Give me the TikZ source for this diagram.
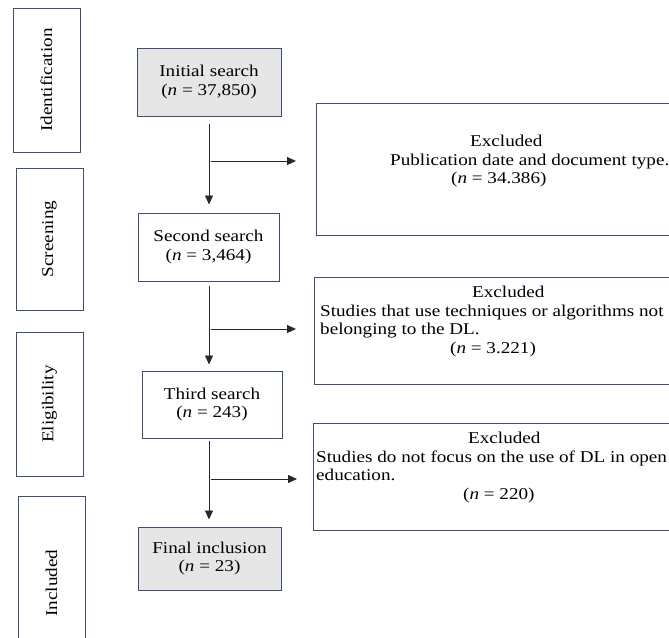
\documentclass[tikz,border=0pt]{standalone}
\usepackage{fontspec}
\setmainfont[FakeStretch=1.16]{Liberation Serif}
\usetikzlibrary{arrows.meta,calc}
\definecolor{bordc}{RGB}{62,80,112}
\definecolor{greyfill}{RGB}{230,230,230}
\definecolor{arrc}{RGB}{40,40,40}
\begin{document}
\begin{tikzpicture}[x=1pt,y=-1pt,
  every node/.style={font=\fontsize{16.5}{18.5}\selectfont, inner sep=0pt},
  sidebox/.style={draw=bordc, line width=1pt, rotate=90, minimum height=67pt},
  mainbox/.style={draw=bordc, line width=1pt, align=center},
  greybox/.style={mainbox, fill=greyfill},
  exbox/.style={draw=bordc, line width=1pt},
  extext/.style={anchor=north west, align=left},
  arr/.style={draw=arrc, line width=0.9pt, -{Triangle[length=9pt,width=8pt]}}]
\useasboundingbox (0,0) rectangle (669,637);
\clip (0,0) rectangle (669,637);
% side stage labels
\node[sidebox, minimum width=144pt] (ident) at (46.5,80) {Identification};
\node[sidebox, minimum width=142pt] (screen) at (49.5,239) {Screening};
\node[sidebox, minimum width=144pt] (elig) at (49.5,404) {Eligibility};
\node[sidebox, minimum width=174pt] (incl) at (51.5,583) {Included};
% main flow boxes
\node[greybox, minimum width=144pt, minimum height=68pt] (init) at (209,82) {Initial search\\(\textit{n} = 37,850)};
\node[mainbox, minimum width=141pt, minimum height=68pt] (second) at (208.5,247) {Second search\\(\textit{n} = 3,464)};
\node[mainbox, minimum width=140pt, minimum height=67pt] (third) at (212,404.5) {Third search\\(\textit{n} = 243)};
\node[greybox, minimum width=143pt, minimum height=63pt] (final) at (209.5,558.5) {Final inclusion\\(\textit{n} = 23)};
% excluded boxes
\node[exbox, anchor=north west, minimum width=390pt, minimum height=132pt] (ex1) at (316,103) {};
\node[exbox, anchor=north west, minimum width=390pt, minimum height=107pt] (ex2) at (314,277) {};
\node[exbox, anchor=north west, minimum width=390pt, minimum height=107pt] (ex3) at (313,423) {};
% excluded texts
\node[extext] (t1) at (390,135) {\hspace*{80pt}Excluded\\Publication date and document type.\\\hspace*{61pt}(\textit{n} = 34.386)};
\node[extext] (t2) at (320,286) {\hspace*{152pt}Excluded\\Studies that use techniques or algorithms not\\belonging to the DL.\\\hspace*{130pt}(\textit{n} = 3.221)};
\node[extext] (t3) at (316,432) {\hspace*{152pt}Excluded\\Studies do not focus on the use of DL in open\\education.\\\hspace*{147pt}(\textit{n} = 220)};
% arrows
\draw[arr, shorten <=7pt, shorten >=8pt] (init.south) -- (init.south |- second.north);
\draw[arr, shorten <=4pt, shorten >=6pt] (init.south |- second.south) -- (init.south |- third.north);
\draw[arr, shorten <=2pt, shorten >=7pt] (init.south |- third.south) -- (init.south |- final.north);
\coordinate (j1) at (211,161);
\coordinate (j2) at (211,329);
\coordinate (j3) at (211,479);
\draw[arr, shorten >=20pt] (j1) -- (j1 -| ex1.west);
\draw[arr, shorten >=18pt] (j2) -- (j2 -| ex2.west);
\draw[arr, shorten >=16pt] (j3) -- (j3 -| ex3.west);
\end{tikzpicture}
\end{document}
